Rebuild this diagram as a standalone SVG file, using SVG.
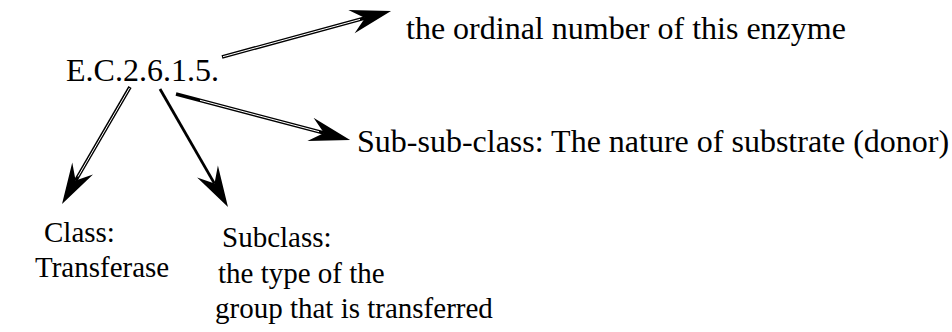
<svg xmlns="http://www.w3.org/2000/svg" width="952" height="332" viewBox="0 0 952 332">
<style>
text{font-family:"Liberation Serif","Times New Roman",serif;font-size:32px;fill:#000}
text.sm{font-size:29px}
.ln{stroke:#000;stroke-width:3.6;fill:none}
.ln1{stroke:#000;stroke-width:2.8;fill:none}
.in{stroke:#fff;stroke-width:1;fill:none}
</style>
<defs>
<marker id="ah" markerUnits="userSpaceOnUse" orient="auto" refX="0" refY="0" markerWidth="46" markerHeight="28" viewBox="-16 -14 46 28" overflow="visible">
<path d="M27 0 L-14 -12 L0 0 L-14 12 Z" fill="#000"/>
</marker>
</defs>
<rect width="952" height="332" fill="#fff"/>
<g id="connectors">
<line class="ln" x1="222" y1="57" x2="365" y2="18" marker-end="url(#ah)"/>
<line class="in" x1="223" y1="56.7" x2="360" y2="19.4"/>
<line class="ln" x1="176" y1="94" x2="324" y2="133" marker-end="url(#ah)"/>
<line class="in" x1="200" y1="100.3" x2="319" y2="131.7"/>
<line class="ln" x1="130" y1="87" x2="75.6" y2="180.6" marker-end="url(#ah)"/>
<line class="in" x1="129.5" y1="88" x2="78" y2="176.6"/>
<line class="ln1" x1="160" y1="89" x2="214.5" y2="183.6" marker-end="url(#ah)"/>
</g>
<g id="ec"><text x="66" y="81">E.C.2.6.1.5.</text></g>
<g id="ordinal"><text x="406" y="39">the ordinal number of this enzyme</text></g>
<g id="subsubclass"><text x="357" y="152">Sub-sub-class: The nature of substrate (donor)</text></g>
<g id="class"><text class="sm" x="44" y="242">Class:</text><text class="sm" x="35" y="277">Transferase</text></g>
<g id="subclass"><text class="sm" x="222" y="247">Subclass:</text><text class="sm" x="218" y="283">the type of the</text><text class="sm" x="215" y="318">group that is transferred</text></g>
</svg>
